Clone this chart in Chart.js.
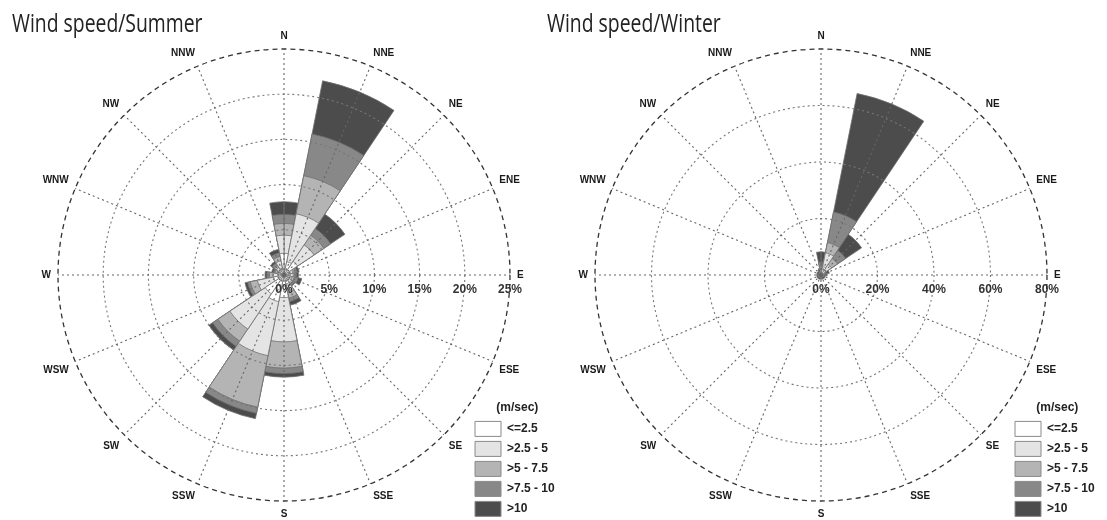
<!DOCTYPE html>
<html>
<head>
<meta charset="utf-8">
<script src="https://cdn.jsdelivr.net/npm/chart.js@4.4.1/dist/chart.umd.min.js"></script>
<style>
  body { margin: 0; background: #fff; width: 1107px; height: 520px; position: relative; overflow: hidden; }
  .box { position: absolute; top: 0; }
  .title { position: absolute; top: 10px; font: 25px/25px "Open Sans", sans-serif; color: #222;
           transform: scaleX(0.775); transform-origin: 0 0; white-space: nowrap; }
</style>
</head>
<body>
<div class="box" style="left:0"><canvas id="summer" width="560" height="520"></canvas></div>
<div class="box" style="left:537px"><canvas id="winter" width="570" height="520"></canvas></div>
<div class="title" style="left:12px">Wind speed/Summer</div>
<div class="title" style="left:547px">Wind speed/Winter</div>
<script>
const directions = ['N', 'NNE', 'NE', 'ENE', 'E', 'ESE', 'SE', 'SSE', 'S', 'SSW', 'SW', 'WSW', 'W', 'WNW', 'NW', 'NNW'];
const speedBands = ['<=2.5', '>2.5 - 5', '>5 - 7.5', '>7.5 - 10', '>10'];
const bandColors = ['#ffffff', '#e4e4e4', '#b4b4b4', '#888888', '#4c4c4c'];

// % of time per direction, one array per speed class (m/sec)
const summerCalm     = [2.4, 1.5, 1.8, 0.5, 0.5, 0.4, 0.5, 1.0, 2.5, 3.0, 2.5, 1.2, 0.6, 0.4, 0.5, 0.8];
const summerLight    = [2.0, 5.4, 2.2, 0.5, 0.5, 0.5, 0.5, 1.0, 4.9, 6.1, 4.7, 1.8, 0.6, 0.4, 0.5, 0.8];
const summerModerate = [1.3, 4.3, 1.3, 0.3, 0.2, 0.3, 0.2, 0.6, 2.9, 5.8, 1.6, 0.8, 0.4, 0.2, 0.3, 0.5];
const summerFresh    = [1.0, 4.7, 0.9, 0.2, 0.2, 0.4, 0.2, 0.4, 0.6, 0.7, 0.7, 0.3, 0.3, 0.2, 0.3, 0.4];
const summerStrong   = [1.4, 6.0, 1.9, 0.2, 0.2, 0.4, 0.1, 0.4, 0.4, 0.6, 0.5, 0.3, 0.2, 0.2, 0.2, 0.4];

const winterCalm     = [1.0, 3.0, 2.0, 0.5, 0.4, 0.3, 0.3, 0.3, 0.3, 0.3, 0.3, 0.3, 0.3, 0.3, 0.3, 0.4];
const winterLight    = [1.0, 5.0, 2.5, 0.5, 0.4, 0.3, 0.3, 0.3, 0.3, 0.3, 0.3, 0.3, 0.3, 0.3, 0.3, 0.4];
const winterModerate = [1.0, 3.7, 2.5, 0.5, 0.3, 0.2, 0.2, 0.2, 0.2, 0.2, 0.2, 0.2, 0.2, 0.2, 0.2, 0.3];
const winterFresh    = [1.6, 11.0, 3.5, 0.5, 0.3, 0.2, 0.2, 0.2, 0.2, 0.2, 0.2, 0.2, 0.2, 0.2, 0.2, 0.3];
const winterStrong   = [3.6, 42.8, 6.8, 1.0, 0.6, 0.5, 0.5, 0.5, 0.5, 0.5, 0.5, 0.5, 0.5, 0.5, 0.5, 0.6];

Chart.defaults.font.family = '"Liberation Sans", Arial, sans-serif';

// legend sits inside the plot, bottom right
const placeLegend = {
  id: 'placeLegend',
  afterLayout(chart, args, opts) {
    const lg = chart.legend;
    if (!lg) return;
    const w = lg.width;
    lg.left = opts.x;
    lg.right = opts.x + w;
    lg.top = opts.y;
    lg.bottom = opts.y + 300;
    lg.height = 300;
  }
};

// percent labels along the east axis
const tickLabels = {
  id: 'tickLabels',
  afterDraw(chart) {
    const s = chart.scales.r;
    const ctx = chart.ctx;
    ctx.save();
    ctx.font = 'bold 12px "Liberation Sans", Arial, sans-serif';
    ctx.fillStyle = '#333';
    ctx.textAlign = 'center';
    ctx.textBaseline = 'middle';
    s.ticks.forEach(t => {
      ctx.fillText(t.label, s.xCenter + s.getDistanceFromCenterForValue(t.value), s.yCenter + 15);
    });
    ctx.restore();
  }
};

function makeRose(id, bands, max, step, canvasWidth, legendX) {
  let running = directions.map(() => 0);
  const datasets = bands.map((band, i) => {
    running = running.map((v, k) => v + band[k]);
    // north wedge is split in two halves so every wedge is centred on its direction
    return {
      label: speedBands[i],
      data: [...running, running[0]],
      backgroundColor: bandColors[i],
      borderColor: '#707070',
      borderWidth: 0.8,
      angle: c => (c.dataIndex === 0 || c.dataIndex === directions.length) ? 11.25 : 22.5
    };
  });

  return new Chart(document.getElementById(id), {
    type: 'polarArea',
    data: { labels: directions, datasets: datasets },
    options: {
      responsive: false,
      animation: false,
      layout: { padding: { left: 38, top: 30, right: canvasWidth - 528, bottom: 0 } },
      scales: {
        r: {
          min: 0,
          max: max,
          ticks: { display: false, stepSize: step, callback: v => v + '%' },
          grid: {
            z: 1,
            circular: true,
            color: c => c.tick.value === max ? '#333' : '#777',
            lineWidth: c => c.tick.value === max ? 1.3 : 1.1
          },
          border: { dash: c => c.tick.value === max ? [5, 4] : [2, 3] },
          angleLines: { display: true, color: '#666', lineWidth: 1.1, borderDash: [2, 3] },
          pointLabels: { display: true, padding: 7, color: '#1a1a1a', font: { size: 10, weight: 'bold' } }
        }
      },
      plugins: {
        tooltip: { enabled: false },
        placeLegend: { x: legendX, y: 402 },
        legend: {
          position: 'chartArea',
          align: 'start',
          title: { display: true, text: '(m/sec)', color: '#222', padding: 0, font: { size: 12, weight: 'bold' } },
          labels: {
            boxWidth: 26,
            boxHeight: 15,
            padding: 5,
            color: '#222',
            font: { size: 12, weight: 'bold' },
            generateLabels: chart => chart.data.datasets.map((d, i) => ({
              text: d.label, fillStyle: d.backgroundColor, strokeStyle: '#8a8a8a',
              lineWidth: 1, hidden: false, datasetIndex: i
            }))
          }
        }
      }
    },
    plugins: [placeLegend, tickLabels]
  });
}

makeRose('summer', [summerCalm, summerLight, summerModerate, summerFresh, summerStrong], 25, 5, 560, 470);
makeRose('winter', [winterCalm, winterLight, winterModerate, winterFresh, winterStrong], 80, 20, 570, 473);
</script>
</body>
</html>
